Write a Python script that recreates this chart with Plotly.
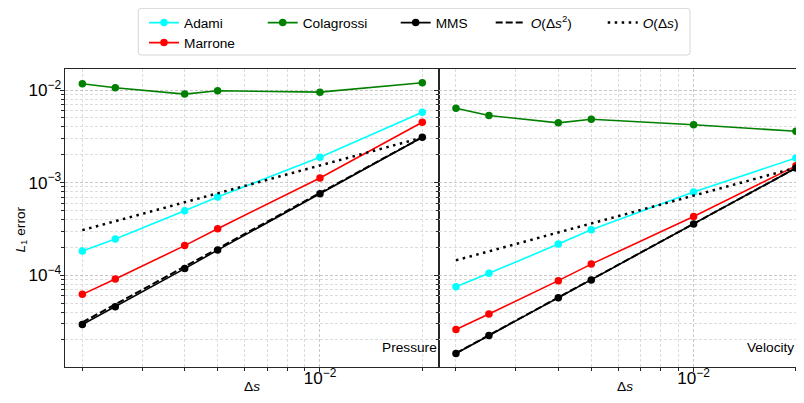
import plotly.graph_objects as go

# ---------------- data ----------------
ds = [0.002, 0.0025, 0.004, 0.005, 0.01, 0.02]

adami_p = [1.83e-4, 2.47e-4, 4.97e-4, 7.0e-4, 1.88e-3, 5.78e-3]
marrone_p = [6.22e-5, 9.12e-5, 2.09e-4, 3.18e-4, 1.125e-3, 4.5e-3]
colagrossi_p = [1.173e-2, 1.062e-2, 9.05e-3, 9.85e-3, 9.51e-3, 1.202e-2]
mms_p = [2.94e-5, 4.57e-5, 1.18e-4, 1.87e-4, 7.6e-4, 3.1e-3]

adami_v = [7.52e-5, 1.05e-4, 2.17e-4, 3.10e-4, 7.93e-4, 1.85e-3]
marrone_v = [2.60e-5, 3.81e-5, 8.75e-5, 1.32e-4, 4.31e-4, 1.52e-3]
colagrossi_v = [6.38e-3, 5.32e-3, 4.43e-3, 4.85e-3, 4.22e-3, 3.59e-3]
mms_v = [1.43e-5, 2.24e-5, 5.71e-5, 8.89e-5, 3.57e-4, 1.44e-3]

ref_ds = [0.002, 0.02]
order2_p = [3.1e-5, 3.1e-3]
order1_p = [3.07e-4, 3.07e-3]
order2_v = [1.44e-5, 1.44e-3]
order1_v = [1.45e-4, 1.45e-3]

panel_labels = ["Pressure", "Velocity"]
series_names = ["Adami", "Marrone", "Colagrossi", "MMS"]
series_colors = ["#00ffff", "#ff0000", "#008000", "#000000"]
order2_name = "<i>O</i>(Δ<i>s</i><sup>2</sup>)"
order1_name = "<i>O</i>(Δ<i>s</i>)"
x_title = "Δ<i>s</i>"
y_title = "<i>L</i><sub>1</sub> error"

# ---------------- figure ----------------
FONT = "Liberation Sans, Arial, Helvetica, sans-serif"
FS = 13.7
OFF = 8                      # page body margin of the html page
W, H = 804 - 2 * OFF, 403 - 2 * OFF   # fit the window without scrollbars
PL, PT, PB = 65, 69, 367     # plot-area edges in window pixels
PR = OFF + W                 # right edge of the figure in window pixels
ML, MR, MT, MB = PL - OFF, 0, PT - OFF, OFF + H - PB
PW, PH = W - ML - MR, H - MT - MB
split = (439.3 - PL) / PW
DEC = 340.0                  # pixels per decade on x


def px_x(p):
    return (p - PL) / PW


def px_y(p):
    return (PB - p) / PH


fig = go.Figure()

legend_ids = {"Adami": "legend", "Marrone": "legend2", "Colagrossi": "legend3",
              "MMS": "legend4", "o2": "legend5", "o1": "legend6"}

panels = [
    ("x", "y", [adami_p, marrone_p, colagrossi_p, mms_p], order2_p, order1_p, True),
    ("x2", "y2", [adami_v, marrone_v, colagrossi_v, mms_v], order2_v, order1_v, False),
]

for xa, ya, vals, o2, o1, show in panels:
    for name, color, v in zip(series_names, series_colors, vals):
        fig.add_trace(go.Scatter(
            x=ds, y=v, mode="lines+markers", name=name,
            line=dict(color=color, width=1.6),
            marker=dict(color=color, size=7.5), cliponaxis=False,
            xaxis=xa, yaxis=ya, showlegend=show, legend=legend_ids[name],
        ))
    fig.add_trace(go.Scatter(
        x=ref_ds, y=o2, mode="lines", name=order2_name,
        line=dict(color="black", width=2, dash="7px,3px"),
        xaxis=xa, yaxis=ya, showlegend=show, legend=legend_ids["o2"],
    ))
    fig.add_trace(go.Scatter(
        x=ref_ds, y=o1, mode="lines", name=order1_name,
        line=dict(color="black", width=2.5, dash="2.5px,4.5px"),
        xaxis=xa, yaxis=ya, showlegend=show, legend=legend_ids["o1"],
    ))

AX = "#262626"
GRID_MAJ = "#c8c8c8"
GRID_MIN = "#dcdcdc"

common_x = dict(
    type="log", showline=True, linecolor=AX, linewidth=1.2, mirror=True,
    ticks="outside", ticklen=4, tickcolor=AX, tickwidth=1, dtick=1,
    exponentformat="power", showexponent="all", automargin=False,
    ticklabelstandoff=-8,
    showgrid=True, gridcolor=GRID_MAJ, griddash="3px,2px", gridwidth=0.8,
    minor=dict(ticks="outside", ticklen=2.5, tickcolor=AX, showgrid=True,
               gridcolor=GRID_MIN, griddash="3px,2px", gridwidth=0.8),
    zeroline=False, tickfont=dict(family=FONT, size=FS, color="black"),
)
common_y = dict(
    type="log", range=[-4.991, -1.772], showline=True, linecolor=AX, linewidth=1.2,
    ticks="outside", ticklen=4, tickcolor=AX, tickwidth=1, dtick=1,
    exponentformat="power", showexponent="all", automargin=False,
    ticklabelstandoff=-4,
    showgrid=True, gridcolor=GRID_MAJ, griddash="3px,2px", gridwidth=0.8,
    minor=dict(ticks="outside", ticklen=2.5, tickcolor=AX, showgrid=True,
               gridcolor=GRID_MIN, griddash="3px,2px", gridwidth=0.8),
    zeroline=False, tickfont=dict(family=FONT, size=FS, color="black"),
)

x2_start = -2.748
x2_end = x2_start + (PR - 439.3) / DEC

fig.update_layout(
    width=W, height=H,
    margin=dict(l=ML, r=MR, t=MT, b=MB, pad=0, autoexpand=False),
    paper_bgcolor="white", plot_bgcolor="white",
    font=dict(family=FONT, size=FS, color="black"),
    xaxis=dict(common_x, domain=[0, split], range=[-2.750, -1.649], anchor="y"),
    xaxis2=dict(common_x, domain=[split, 1], range=[x2_start, x2_end], anchor="y2"),
    yaxis=dict(common_y, domain=[0, 1], anchor="x", mirror=True),
    yaxis2=dict(common_y, domain=[0, 1], anchor="x2", matches="y",
                showticklabels=False),
)

# axis titles
txt_font = dict(family=FONT, size=FS, color="black")
fig.add_annotation(text=x_title, xref="paper", yref="paper", x=px_x(252),
                   y=px_y(386), xanchor="center", yanchor="middle",
                   showarrow=False, font=txt_font)
fig.add_annotation(text=x_title, xref="paper", yref="paper", x=px_x(625),
                   y=px_y(386), xanchor="center", yanchor="middle",
                   showarrow=False, font=txt_font)
fig.add_annotation(text=y_title, xref="paper", yref="paper", x=px_x(21.5),
                   y=px_y(230), xanchor="center", yanchor="middle", textangle=-90,
                   showarrow=False, font=txt_font)

# panel labels
fig.add_annotation(text=panel_labels[0], xref="paper", yref="paper",
                   x=split, y=px_y(347.3), xanchor="right", yanchor="middle",
                   showarrow=False, font=txt_font)
fig.add_annotation(text=panel_labels[1], xref="paper", yref="paper",
                   x=px_x(PR - 0.5), y=px_y(347.3), xanchor="right", yanchor="middle",
                   showarrow=False, font=txt_font)

# legend frame (rounded)
x0, x1 = px_x(138.3), px_x(690.0)
y0, y1 = px_y(55.0), px_y(8.3)
rx, ry = 3 / PW, 3 / PH
path = (f"M{x0+rx},{y1} L{x1-rx},{y1} Q{x1},{y1} {x1},{y1-ry} "
        f"L{x1},{y0+ry} Q{x1},{y0} {x1-rx},{y0} L{x0+rx},{y0} "
        f"Q{x0},{y0} {x0},{y0+ry} L{x0},{y1-ry} Q{x0},{y1} {x0+rx},{y1} Z")
fig.add_shape(type="path", path=path, xref="paper", yref="paper",
              line=dict(color="#d5d5d5", width=1), fillcolor="white", layer="above")

leg_common = dict(xanchor="left", yanchor="middle", bgcolor="rgba(0,0,0,0)",
                  borderwidth=0, itemwidth=30, font=txt_font)
row1, row2 = px_y(22.7), px_y(42.7)
fig.update_layout(
    legend=dict(leg_common, x=px_x(184 - 40), y=row1),
    legend2=dict(leg_common, x=px_x(184 - 40), y=row2),
    legend3=dict(leg_common, x=px_x(302.7 - 40), y=row1),
    legend4=dict(leg_common, x=px_x(435.7 - 40), y=row1),
    legend5=dict(leg_common, x=px_x(530.7 - 40), y=row1),
    legend6=dict(leg_common, x=px_x(642.7 - 40), y=row1),
)

fig.write_html("out.html")
